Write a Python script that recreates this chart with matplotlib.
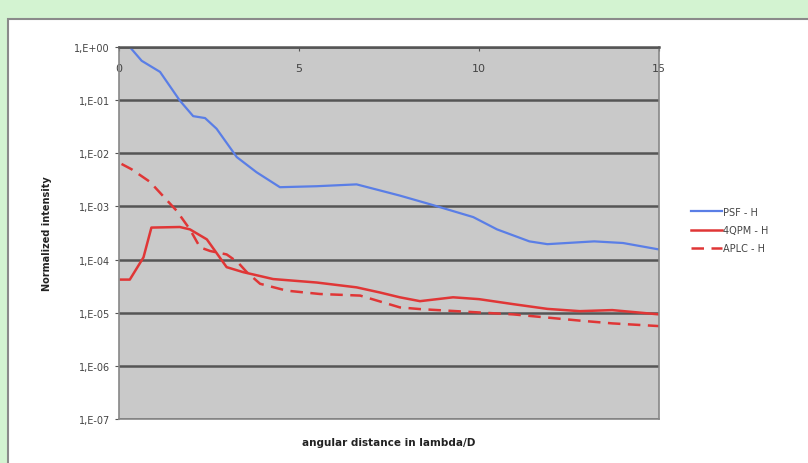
import matplotlib.pyplot as plt
from matplotlib.patches import Rectangle
from matplotlib.lines import Line2D

# angular distance (lambda/D) and normalized intensity
psf_x = [0.3, 0.63, 1.14, 1.69, 2.06, 2.39, 2.71, 3.27, 3.82, 4.47, 5.49, 6.6,
         7.25, 7.8, 8.64, 9.84, 10.5, 11.4, 11.9, 13.2, 14.0, 15.0]
psf_y = [1.0, 0.55, 0.34, 0.098, 0.05, 0.046, 0.029, 8.5e-3, 4.4e-3, 2.3e-3,
         2.4e-3, 2.6e-3, 2.0e-3, 1.6e-3, 1.1e-3, 6.3e-4, 3.7e-4, 2.2e-4,
         1.95e-4, 2.2e-4, 2.05e-4, 1.55e-4]

qpm_x = [0.05, 0.3, 0.68, 0.9, 1.69, 1.97, 2.44, 2.99, 3.45, 4.28, 5.49, 6.6,
         7.25, 7.8, 8.36, 9.28, 10.0, 10.95, 11.9, 12.8, 13.7, 15.0]
qpm_y = [4.2e-5, 4.2e-5, 1.1e-4, 4.0e-4, 4.1e-4, 3.7e-4, 2.4e-4, 7.2e-5,
         5.8e-5, 4.3e-5, 3.7e-5, 3.0e-5, 2.4e-5, 1.95e-5, 1.65e-5, 1.95e-5,
         1.8e-5, 1.45e-5, 1.18e-5, 1.07e-5, 1.12e-5, 9.3e-6]

aplc_x = [0.07, 0.35, 0.86, 1.6, 1.97, 2.25, 2.53, 2.99, 3.3, 3.55, 3.92, 4.66,
          5.58, 6.7, 7.5, 7.8, 8.36, 10.95, 11.9, 12.8, 13.7, 15.0]
aplc_y = [6.3e-3, 5.0e-3, 2.9e-3, 8.3e-4, 3.7e-4, 1.7e-4, 1.45e-4, 1.25e-4,
          8.9e-5, 5.8e-5, 3.5e-5, 2.6e-5, 2.25e-5, 2.1e-5, 1.45e-5, 1.26e-5,
          1.17e-5, 9.3e-6, 8.1e-6, 7.1e-6, 6.3e-6, 5.6e-6]

y_ticks = [1e0, 1e-1, 1e-2, 1e-3, 1e-4, 1e-5, 1e-6, 1e-7]
y_labels = ['1,E+00', '1,E-01', '1,E-02', '1,E-03', '1,E-04', '1,E-05', '1,E-06', '1,E-07']
x_ticks = [0, 5, 10, 15]

fig = plt.figure(figsize=(8.08, 4.64), dpi=100)
fig.patch.set_facecolor('#d3f3d1')

# white chart panel
W, H = 808, 464
panel = Rectangle((8 / W, -0.05), 1.0, (H - 20) / H + 0.05, transform=fig.transFigure,
                  facecolor='white', edgecolor='#8a8a8a', linewidth=1.5, zorder=-10)
fig.patches.append(panel)

ax = fig.add_axes([119 / W, 1 - 420 / H, (659 - 119) / W, (420 - 48) / H])
ax.set_zorder(1)
ax.set_facecolor('#c9c9c9')
ax.set_yscale('log')
ax.set_xlim(0, 15)
ax.set_ylim(1e-7, 1e0)

ax.set_yticks(y_ticks)
ax.set_yticklabels(y_labels)
ax.minorticks_off()
ax.set_xticks(x_ticks)
ax.grid(axis='y', color='#555555', linewidth=1.8)
ax.set_axisbelow(True)

ax.tick_params(axis='x', top=True, bottom=False, labeltop=True, labelbottom=False,
               direction='in', length=3, pad=-19, labelsize=8, labelcolor='#444444',
               color='#555555')
ax.tick_params(axis='y', length=3, labelsize=7, labelcolor='#444444', color='#555555')

for side, sp in ax.spines.items():
    sp.set_color('#888888')
    sp.set_linewidth(1.2)
ax.spines['top'].set_color('#555555')
ax.spines['top'].set_linewidth(1.8)

ax.plot(psf_x, psf_y, color='#5a7ee6', linewidth=1.6, label='PSF - H')
ax.plot(qpm_x, qpm_y, color='#e03636', linewidth=1.8, label='4QPM - H')
ax.plot(aplc_x, aplc_y, color='#e03636', linewidth=1.8, linestyle=(0, (5, 3)),
        label='APLC - H')

ax.set_ylabel('Normalized intensity', fontsize=7, fontweight='bold', labelpad=16,
              color='#222222')
fig.text((119 + 659) / 2 / W, 1 - 443 / H, 'angular distance in lambda/D',
         fontsize=7.5, fontweight='bold', ha='center', va='center', color='#222222')

handles = [Line2D([], [], color='#5a7ee6', lw=1.6),
           Line2D([], [], color='#e03636', lw=1.8),
           Line2D([], [], color='#e03636', lw=1.8, ls=(0, (5, 3)))]
fig.legend(handles, ['PSF - H', '4QPM - H', 'APLC - H'], loc='center left',
           bbox_to_anchor=(682 / W, 1 - 231 / H), frameon=False, fontsize=7,
           handlelength=3.2, handletextpad=0.15, labelspacing=0.85, labelcolor='#444444')

fig.savefig('out.png', dpi=100, facecolor=fig.get_facecolor())
